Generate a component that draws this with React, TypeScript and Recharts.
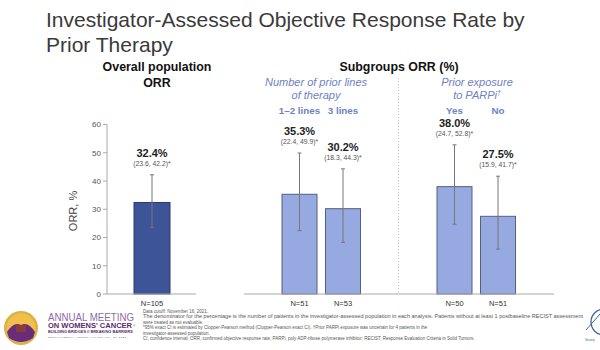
import React from 'react';
import { BarChart, Bar, XAxis, YAxis, ErrorBar } from 'recharts';

const FONT = '"Liberation Sans", Arial, Helvetica, sans-serif';

// ---------- data ----------
const overallGroup = ['Overall population'];
const overallOrr = [32.4];
const overallCiLow = [23.6];
const overallCiHigh = [42.2];
const overallN = [105];

const groupNames = ['Number of prior lines of therapy', 'Prior exposure to PARPi'];
const firstSubgroup = ['1–2 lines', 'Yes'];
const firstOrr = [35.3, 38.0];
const firstCiLow = [22.4, 24.7];
const firstCiHigh = [49.9, 52.8];
const firstN = [51, 50];
const secondSubgroup = ['3 lines', 'No'];
const secondOrr = [30.2, 27.5];
const secondCiLow = [18.3, 15.9];
const secondCiHigh = [44.3, 41.7];
const secondN = [53, 51];

const yTicks = [0, 10, 20, 30, 40, 50, 60];

const footnotes = [
  'Data cutoff: November 16, 2021.',
  'The denominator for the percentage is the number of patients in the investigator-assessed population in each analysis. Patients without at least 1 postbaseline RECIST assessment',
  'were treated as not evaluable.',
  '*95% exact CI is estimated by Clopper-Pearson method (Clopper-Pearson exact CI). \u2020Prior PARPi exposure was uncertain for 4 patients in the',
  'investigator-assessed population.',
  'CI, confidence interval; ORR, confirmed objective response rate; PARPi, poly ADP-ribose polymerase inhibitor; RECIST, Response Evaluation Criteria in Solid Tumors.',
];

// ---------- rows built from arrays ----------
const overallRows = overallGroup.map((g, i) => ({
  group: g,
  o: overallOrr[i],
  oLo: overallCiLow[i],
  oHi: overallCiHigh[i],
  oN: overallN[i],
  oName: '',
  oErr: [overallOrr[i] - overallCiLow[i], overallCiHigh[i] - overallOrr[i]],
}));

const subgroupRows = groupNames.map((g, i) => ({
  group: g,
  a: firstOrr[i],
  aLo: firstCiLow[i],
  aHi: firstCiHigh[i],
  aN: firstN[i],
  aName: firstSubgroup[i],
  aErr: [firstOrr[i] - firstCiLow[i], firstCiHigh[i] - firstOrr[i]],
  b: secondOrr[i],
  bLo: secondCiLow[i],
  bHi: secondCiHigh[i],
  bN: secondN[i],
  bName: secondSubgroup[i],
  bErr: [secondOrr[i] - secondCiLow[i], secondCiHigh[i] - secondOrr[i]],
}));

const DARK = '#3e5499';
const DARK_STROKE = '#2b3a70';
const LIGHT = '#96a9e0';
const LIGHT_STROKE = '#55607f';
const SUB_BLUE = '#6d82c2';

function makeShape(key: string, fill: string, stroke: string) {
  return (props: any) => {
    const { x, y, width, height, payload } = props;
    const v = payload[key];
    const lo = payload[key + 'Lo'];
    const hi = payload[key + 'Hi'];
    const n = payload[key + 'N'];
    const name = payload[key + 'Name'];
    const base = y + height;
    const unit = height / v;
    const yHi = base - hi * unit;
    const cx = x + width / 2;
    return (
      <g>
        <rect x={x} y={y} width={width} height={height} fill={fill} stroke={stroke} strokeWidth={1} />
        <text x={cx} y={yHi - 18} textAnchor="middle" fontSize={11} fontWeight="bold" fill="#222" fontFamily={FONT}>
          {v.toFixed(1)}%
        </text>
        <text x={cx} y={yHi - 9} textAnchor="middle" fontSize={6.8} fill="#555" fontFamily={FONT}>
          ({lo.toFixed(1)}, {hi.toFixed(1)})*
        </text>
        <text x={cx} y={base + 12} textAnchor="middle" fontSize={7.5} fill="#333" fontFamily={FONT}>
          N={n}
        </text>
        {name ? (
          <text x={cx} y={113.5} textAnchor="middle" fontSize={9.8} fontWeight="bold" fill={SUB_BLUE} fontFamily={FONT}>
            {name}
          </text>
        ) : null}
      </g>
    );
  };
}

function Overlay() {
  return (
    <svg width={600} height={350} style={{ position: 'absolute', left: 0, top: 0 }} fontFamily={FONT}>
      <rect x={0} y={0} width={600} height={350} fill="#ffffff" />
      {/* title */}
      <text x={46} y={27} fontSize={21} fill="#3a3a3a">Investigator-Assessed Objective Response Rate by</text>
      <text x={46} y={52} fontSize={21} fill="#3a3a3a">Prior Therapy</text>

      {/* section headers */}
      <text x={157} y={71} fontSize={12.4} fontWeight="bold" fill="#111" textAnchor="middle">Overall population</text>
      <text x={157} y={87} fontSize={12.4} fontWeight="bold" fill="#111" textAnchor="middle">ORR</text>
      <text x={399} y={71} fontSize={12.4} fontWeight="bold" fill="#111" textAnchor="middle">Subgroups ORR (%)</text>

      <text x={316} y={86} fontSize={11} fontStyle="italic" fill={SUB_BLUE} textAnchor="middle">Number of prior lines</text>
      <text x={316} y={98.5} fontSize={11} fontStyle="italic" fill={SUB_BLUE} textAnchor="middle">of therapy</text>
      <text x={477} y={86} fontSize={11} fontStyle="italic" fill={SUB_BLUE} textAnchor="middle">Prior exposure</text>
      <text x={477} y={98.5} fontSize={11} fontStyle="italic" fill={SUB_BLUE} textAnchor="middle">
        to PARPi<tspan fontSize={7} dy={-4}>{'\u2020'}</tspan>
      </text>

      {/* separator */}
      <line x1={398.5} y1={78} x2={398.5} y2={294} stroke="#b8b8b8" strokeWidth={0.8} strokeDasharray="1.2 1.8" />

      {/* y axis title */}
      <text x={0} y={0} fontSize={11} fill="#444" textAnchor="middle" transform="translate(77,211) rotate(-90)">ORR, %</text>

      {/* footnotes */}
      {footnotes.map((t, i) => (
        <text
          key={i}
          x={143}
          y={313 + i * 5.4}
          fontSize={4.5}
          fill="#555"
          {...(i === 1 ? { textLength: 440, lengthAdjust: 'spacingAndGlyphs' } : {})}
        >
          {t}
        </text>
      ))}

      {/* meeting logo */}
      <circle cx={21} cy={328} r={17} fill="#d9b24a" />
      <circle cx={21} cy={328} r={14.5} fill="#f2c04a" />
      <path d="M7 332 Q14 321 21 325 Q28 321 35 332 L33 338 Q21 346 9 338 Z" fill="#6a2b78" />
      <rect x={16} y={325} width={10} height={7} fill="#8a3c3c" />
      <text x={48} y={320.5} fontSize={11.5} fill="#8e6aa6" textLength={86} lengthAdjust="spacingAndGlyphs">ANNUAL MEETING</text>
      <text x={48} y={328.4} fontSize={7} fontWeight="bold" fill="#5b2a6e" textLength={84} lengthAdjust="spacingAndGlyphs">ON WOMENS' CANCER</text>
      <text x={133} y={327} fontSize={3} fill="#5b2a6e">®</text>
      <text x={48} y={333.4} fontSize={2.8} fontWeight="bold" fill="#5b2a6e" textLength={85} lengthAdjust="spacingAndGlyphs">BUILDING BRIDGES // BREAKING BARRIERS</text>
      <text x={48} y={337.8} fontSize={2.4} fill="#8e6aa6" textLength={78} lengthAdjust="spacingAndGlyphs">SGO • PHOENIX, ARIZONA • MARCH 18 – 21, 2022</text>

      {/* right edge logo */}
      <circle cx={604} cy={322} r={13} fill="none" stroke="#3d64a8" strokeWidth={1.3} />
      <line x1={586} y1={330} x2={600} y2={314} stroke="#3d64a8" strokeWidth={1} />
      <text x={585} y={341} fontSize={3} fill="#3d64a8">Society</text>
    </svg>
  );
}

export default function App() {
  return (
    <div style={{ position: 'absolute', left: 0, top: 0, width: 600, height: 350, background: '#fff', fontFamily: FONT }}>
      <Overlay />
      <div style={{ position: 'absolute', left: 0, top: 0 }}>
        <BarChart
          width={600}
          height={350}
          data={overallRows}
          margin={{ top: 124.5, right: 404, bottom: 46, left: 77 }}
        >
          <XAxis dataKey="group" tick={false} tickLine={false} height={10} axisLine={{ stroke: '#aaaaaa' }} />
          <YAxis
            domain={[0, 60]}
            ticks={yTicks}
            interval={0}
            width={30}
            tickSize={4}
            tickMargin={2}
            tick={{ fontSize: 8, fill: '#555', fontFamily: FONT }}
            axisLine={{ stroke: '#aaaaaa' }}
            tickLine={{ stroke: '#aaaaaa' }}
          />
          <Bar dataKey="o" barSize={36} fill={DARK} isAnimationActive={false} shape={makeShape('o', DARK, DARK_STROKE)}>
            <ErrorBar dataKey="oErr" width={2} stroke="#777" strokeWidth={1} direction="y" />
          </Bar>
        </BarChart>
      </div>
      <div style={{ position: 'absolute', left: 0, top: 0 }}>
        <BarChart
          width={600}
          height={350}
          data={subgroupRows}
          barGap={8.5}
          margin={{ top: 124.5, right: 46, bottom: 46, left: 244 }}
        >
          <XAxis dataKey="group" tick={false} tickLine={false} height={10} axisLine={{ stroke: '#aaaaaa' }} />
          <YAxis hide domain={[0, 60]} ticks={yTicks} />
          <Bar dataKey="a" barSize={35} fill={LIGHT} isAnimationActive={false} shape={makeShape('a', LIGHT, LIGHT_STROKE)}>
            <ErrorBar dataKey="aErr" width={2} stroke="#777" strokeWidth={1} direction="y" />
          </Bar>
          <Bar dataKey="b" barSize={35} fill={LIGHT} isAnimationActive={false} shape={makeShape('b', LIGHT, LIGHT_STROKE)}>
            <ErrorBar dataKey="bErr" width={2} stroke="#777" strokeWidth={1} direction="y" />
          </Bar>
        </BarChart>
      </div>
    </div>
  );
}
